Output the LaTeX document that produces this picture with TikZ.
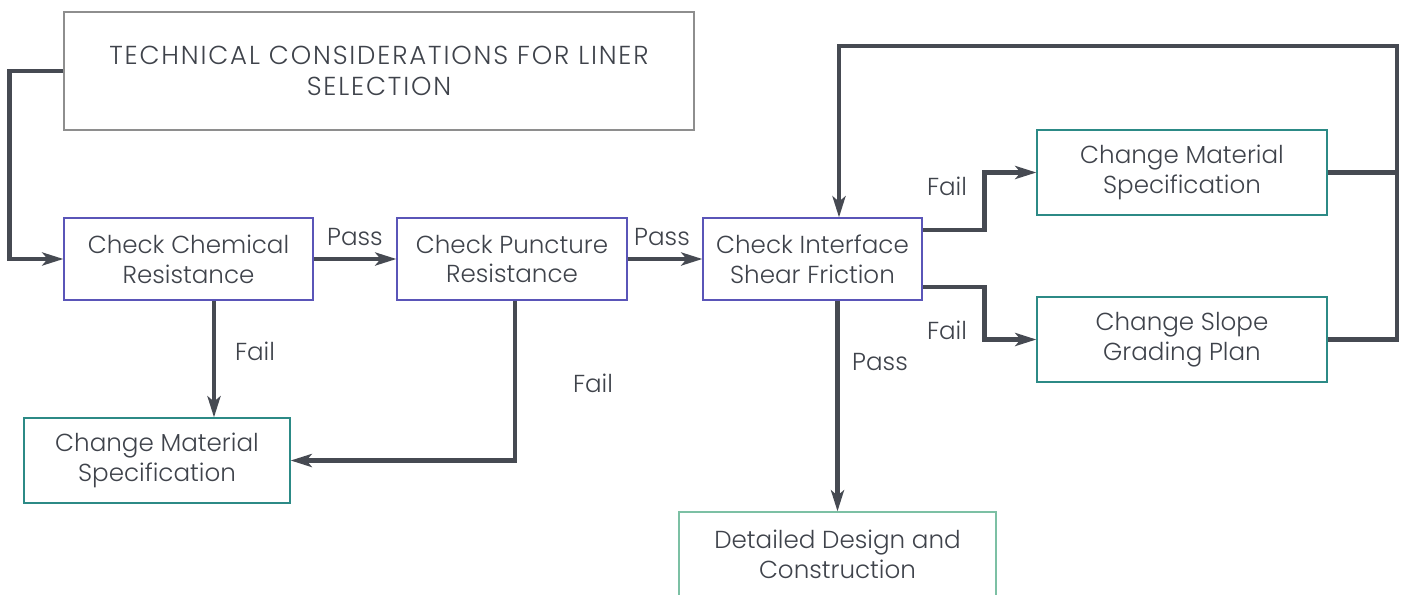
\documentclass[tikz,border=0pt]{standalone}
\usepackage{fontspec}
\setmainfont{Poppins Light}
\newfontfamily\titlefont[LetterSpace=7]{Poppins Light}
\usepackage{xcolor}
\usetikzlibrary{arrows.meta,positioning}

\definecolor{flowgray}{HTML}{464A52}
\definecolor{textgray}{HTML}{3F434B}
\definecolor{checkblue}{HTML}{5A55B8}
\definecolor{changeteal}{HTML}{2C8A86}
\definecolor{designgreen}{HTML}{7CC0A4}
\definecolor{titlegray}{HTML}{8E8E8E}

\begin{document}
\begin{tikzpicture}[
    every node/.style={font=\fontsize{14pt}{17pt}\selectfont, text=textgray},
    title/.style={rectangle, draw=titlegray, line width=0.8pt, align=center, minimum width=12.6cm, minimum height=2.36cm, font=\titlefont\fontsize{14.8pt}{17.5pt}\selectfont},
    check/.style={rectangle, draw=checkblue, line width=0.7pt, align=center, minimum height=1.64cm, inner sep=0pt},
    change/.style={rectangle, draw=changeteal, line width=0.7pt, align=center, minimum width=5.8cm, minimum height=1.7cm, inner sep=0pt},
    link/.style={draw=flowgray, line width=2.8pt},
    flow/.style={link, -{Stealth[length=12pt, width=7.4pt, inset=3pt]}}
]

% Frame
\clip (0,0) rectangle (28.06,11.88);
\useasboundingbox (0,0) rectangle (28.06,11.88);

% Main steps
\node[title] (top) at (7.58,10.46) {TECHNICAL CONSIDERATIONS FOR LINER\\SELECTION};
\node[check, minimum width=4.98cm] (chem) at (3.77,6.70) {Check Chemical\\Resistance};
\node[check, minimum width=4.6cm] (punct) at (10.24,6.70) {Check Puncture\\Resistance};
\node[check, minimum width=4.38cm] (iface) at (16.25,6.70) {Check Interface\\Shear Friction};

% Changes
\node[change, minimum width=5.32cm] (matB) at (3.14,2.67) {Change Material\\Specification};
\node[change] (matA) at (23.64,8.43) {Change Material\\Specification};
\node[change] (slope) at (23.64,5.09) {Change Slope\\Grading Plan};
\node[change, draw=designgreen, minimum width=6.34cm] (design) at (16.75,0.79) {Detailed Design and\\Construction};

% Connectors
\coordinate (loop) at (27.94,10.96);
\draw[flow] (top.west) -- ++(-1.08,0) |- (chem.west);
\draw[flow] (chem.east) -- (punct.west);
\draw[flow] (punct.east) -- (iface.west);
\draw[flow] ([xshift=5.1mm]chem.south) -- ([xshift=5.1mm]chem.south |- matB.north);
\draw[flow] ([xshift=0.6mm]punct.south) |- (matB.east);
\draw[flow] (design.north |- iface.south) -- (design.north);
\draw[flow] ([yshift=5.8mm]iface.east) -- ++(1.24,0) |- (matA.west);
\draw[flow] ([yshift=-5.6mm]iface.east) -- ++(1.24,0) |- (slope.west);
\draw[link] (matA.east) -- (matA.east -| loop);
\draw[flow] (slope.east) -| (loop) -| ([xshift=5.3mm]iface.north);

% Labels
\node (pass1) at (7.10,7.14) {Pass};
\node (pass2) at (13.24,7.14) {Pass};
\node (fail1) at (5.10,4.86) {Fail};
\node (fail2) at (11.86,4.22) {Fail};
\node (pass3) at (17.60,4.64) {Pass};
\node (fail3) at (18.94,8.16) {Fail};
\node (fail4) at (18.94,5.28) {Fail};

\end{tikzpicture}
\end{document}
